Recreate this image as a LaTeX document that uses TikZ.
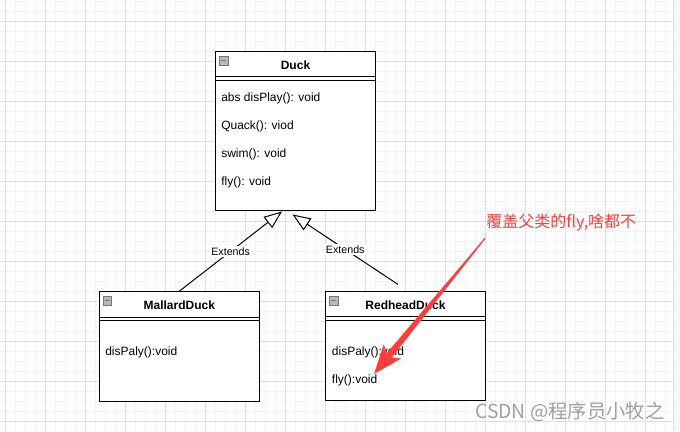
\documentclass[tikz,border=0pt]{standalone}
\usepackage{fontspec}
\setmainfont{Liberation Sans}
\newfontfamily\cjk{Noto Sans CJK SC}
\usetikzlibrary{arrows.meta,calc}
\definecolor{notered}{HTML}{FF3D3D}
\definecolor{gridmajor}{HTML}{E0E0E0}
\definecolor{gridminor}{HTML}{F3F3F3}
\definecolor{markgray}{HTML}{A0A0A0}
\definecolor{stripgray}{HTML}{F5F7FA}
\definecolor{togglefill}{HTML}{B4B8C0}
\definecolor{toggledraw}{HTML}{70757E}

\tikzset{
  umlclass/.style={draw, line width=0.75pt, fill=white, minimum width=120pt, inner sep=0pt},
  classtitle/.style={inner sep=0pt, font=\bfseries\fontsize{9}{11}\selectfont},
  method/.style={anchor=west, inner sep=0pt, font=\fontsize{9}{11}\selectfont},
  togglebox/.style={draw=toggledraw, fill=togglefill, minimum size=6.5pt, inner sep=0pt, line width=0.5pt,
    path picture={\draw[line width=0.9pt] ([xshift=1.3pt]path picture bounding box.west) -- ([xshift=-1.3pt]path picture bounding box.east);}},
  extends/.style={line width=0.75pt, -{Triangle[fill=white, length=13.5pt, width=10.5pt]}},
  extlabel/.style={fill=white, inner sep=1pt, font=\fontsize{8}{10}\selectfont},
}

\begin{document}
\begin{tikzpicture}[x=0.75pt, y=-0.75pt]
\useasboundingbox (0,0) rectangle (680,431);
\fill[white] (0,0) rectangle (673,431);

% grid
\foreach \x in {5,15,...,665} \draw[gridminor, line width=0.75pt] (\x,0) -- (\x,431);
\foreach \y in {1.7,11.7,...,431} \draw[gridminor, line width=0.75pt] (0,\y) -- (673,\y);
\foreach \x in {5,45,...,665} \draw[gridmajor, line width=0.75pt] (\x,0) -- (\x,431);
\foreach \y in {21.7,61.7,...,431} \draw[gridmajor, line width=0.75pt] (0,\y) -- (673,\y);
\fill[stripgray] (673,0) rectangle (680,431);
\draw[gridmajor, line width=0.75pt] (673,0) -- (673,431);

% classes
\node[umlclass, minimum height=119.5pt] (duck) at (295.5,131.3) {};
\node[umlclass, minimum height=82.2pt] (mallard) at (179.3,346.5) {};
\node[umlclass, minimum height=82pt] (redhead) at (405.5,346.3) {};

\foreach \c in {duck,mallard,redhead} {
  \draw[line width=0.75pt] ($(\c.north west)+(0,25.8)$) -- ($(\c.north east)+(0,25.8)$);
  \draw[line width=0.75pt] ($(\c.north west)+(0,29.3)$) -- ($(\c.north east)+(0,29.3)$);
  \node[togglebox] at ($(\c.north west)+(8.5,9.5)$) {};
}

\node[classtitle] (ducktitle) at (295.5,65) {Duck};
\node[method] (duckdisplay) at (221,98.5) {abs disPlay(): void};
\node[method] (duckquack) at (221,126.5) {Quack(): viod};
\node[method] (duckswim) at (221,154.5) {swim(): void};
\node[method] (duckfly) at (221,182.5) {fly(): void};

\node[classtitle] (mallardtitle) at (179.3,305.2) {MallardDuck};
\node[method] (mallarddisplay) at (105,352.7) {disPaly():void};

\node[classtitle] (redheadtitle) at (405.5,305.2) {RedheadDuck};
\node[method] (redheaddisplay) at (331.7,352.7) {disPaly():void};
\node[method] (redheadfly) at (331.7,380.7) {fly():void};

% inheritance
\path[draw,extends] (mallard.north) -- node[extlabel] {Extends} ($(duck.south)+(-13.5,0)$);
\path[draw,extends] ($(redhead.north)+(-7.5,-6.7)$) -- node[extlabel] {Extends} ($(duck.south)+(-3,3)$);

% note
\node[anchor=west, inner sep=0pt, text=notered, font=\cjk\fontsize{12}{14}\selectfont] (note) at (486,222.5) {覆盖父类的fly,啥都不};
\coordinate (notetail) at ($(note.south west)+(-1,7)$);
\coordinate (flytip) at (374,374);
\coordinate (headjoin) at ($(flytip)!18pt!(notetail)$);
\coordinate (headbarb) at ($(flytip)!22pt!(notetail)$);
\fill[notered] ($(notetail)!0.4pt!90:(flytip)$) -- ($(headjoin)!2.5pt!90:(flytip)$)
  -- ($(headbarb)!8.5pt!90:(flytip)$) -- (flytip) -- ($(headbarb)!8.5pt!-90:(flytip)$)
  -- ($(headjoin)!2.5pt!-90:(flytip)$) -- ($(notetail)!0.4pt!-90:(flytip)$) -- cycle;

% watermark
\node[anchor=west, inner sep=0pt, text=markgray, font=\cjk\fontsize{14.5}{16}\selectfont] (mark) at (475,412) {CSDN @程序员小牧之};
\end{tikzpicture}
\end{document}
